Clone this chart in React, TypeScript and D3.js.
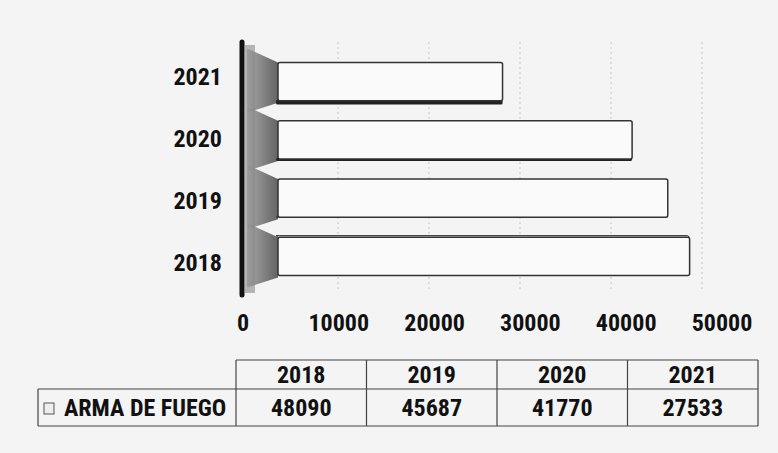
import React from "react";
import * as d3 from "d3";

const categories = ["2018", "2019", "2020", "2021"];
const values = [48090, 45687, 41770, 27533];
const ticks = [0, 10000, 20000, 30000, 40000, 50000];
const seriesName = "ARMA DE FUEGO";

const W = 778;
const H = 453;
const FONT = "'Liberation Sans Narrow', 'Arial Narrow', 'Roboto Condensed', 'Liberation Sans', sans-serif";

export default function App() {
  const order = [...categories].reverse();
  const yBar = d3.scaleBand<string>().domain(order).range([52.5, 285.5]).paddingInner(0.34).paddingOuter(0.17);
  const yLabel = d3.scalePoint<string>().domain(order).range([77, 263]);
  const xFront = d3.scaleLinear().domain([0, 50000]).range([252, 707]);
  const xBack = d3.scaleLinear().domain([0, 50000]).range([247, 702]);
  const xTick = d3.scaleLinear().domain([0, 50000]).range([243, 722]);
  const col = d3.scaleBand<string>().domain(categories).range([236, 758]);
  const eyeY = 205;

  const rows = categories.map((c, i) => ({ c, v: values[i] }));

  return (
    <svg width={W} height={H} style={{ position: "absolute", left: 0, top: 0, display: "block" }} fontFamily={FONT}>
      <defs>
        <linearGradient id="cap" x1="0" x2="1" y1="0" y2="0">
          <stop offset="0" stopColor="#9a9a9a" />
          <stop offset="1" stopColor="#4a4a4a" />
        </linearGradient>
      </defs>
      <rect x={0} y={0} width={W} height={H} fill="#f4f4f4" />

      {/* back wall gridlines */}
      {ticks.slice(1).map((t) => (
        <line key={t} x1={xBack(t)} x2={xBack(t)} y1={42} y2={292} stroke="#c6c6c6" strokeWidth={1} strokeDasharray="2,3" />
      ))}

      {/* wall side strip */}
      <rect x={245} y={45} width={10} height={248} fill="#b4b4b4" />

      {rows.map(({ c, v }) => {
        const top = yBar(c)!;
        const bw = yBar.bandwidth();
        const bottom = top + bw;
        const capX = xFront(0) + 26;
        const end = xFront(v);
        const depth = (eyeY - (top + bw / 2)) * 0.03;
        return (
          <g key={c}>
            <polygon
              points={`247,${top - 14} ${capX},${top} ${capX},${bottom + 2} 247,${bottom + 12}`}
              fill="url(#cap)"
              opacity={0.85}
            />
            {depth > 0 ? (
              <rect x={capX - 2} y={bottom - 1} width={end - capX + 2} height={depth + 1} fill="#222" rx={1.5} />
            ) : (
              <path
                d={`M${capX},${top} L${capX - 2},${top + depth} L${end - 2},${top + depth} L${end},${top}`}
                fill="#e8e8e8"
                stroke="#333"
                strokeWidth={1}
              />
            )}
            <rect x={capX} y={top} width={end - capX} height={bw} fill="#fafafa" stroke="#333" strokeWidth={1.5} rx={2} />
          </g>
        );
      })}

      {/* vertical axis line */}
      <line x1={242} x2={242} y1={42} y2={295} stroke="#111" strokeWidth={5} strokeLinecap="round" />

      {/* y labels */}
      {order.map((c) => (
        <text key={c} x={222} y={yLabel(c)!} textAnchor="end" dominantBaseline="central" fontSize={24} fontWeight="bold" fill="#111">
          {c}
        </text>
      ))}

      {/* x tick labels */}
      {ticks.map((t) => (
        <text key={t} x={xTick(t)} y={323} textAnchor="middle" dominantBaseline="central" fontSize={24} fontWeight="bold" fill="#111">
          {t}
        </text>
      ))}

      {/* data table */}
      <g stroke="#444" strokeWidth={1.2} fill="none">
        <line x1={236} x2={758} y1={360} y2={360} />
        <line x1={38} x2={758} y1={389} y2={389} />
        <line x1={38} x2={758} y1={426} y2={426} />
        <line x1={38} x2={38} y1={389} y2={426} />
        {categories.map((c) => (
          <line key={c} x1={col(c)!} x2={col(c)!} y1={360} y2={426} />
        ))}
        <line x1={758} x2={758} y1={360} y2={426} />
      </g>
      <rect x={44} y={403} width={10} height={11} fill="#eee" stroke="#555" strokeWidth={1} />
      <text x={64} y={408} dominantBaseline="central" fontSize={24} fontWeight="bold" fill="#111">
        {seriesName}
      </text>
      {rows.map(({ c, v }) => (
        <g key={c}>
          <text x={col(c)! + col.bandwidth() / 2} y={375} textAnchor="middle" dominantBaseline="central" fontSize={24} fontWeight="bold" fill="#111">
            {c}
          </text>
          <text x={col(c)! + col.bandwidth() / 2} y={408} textAnchor="middle" dominantBaseline="central" fontSize={24} fontWeight="bold" fill="#111">
            {v}
          </text>
        </g>
      ))}
    </svg>
  );
}
